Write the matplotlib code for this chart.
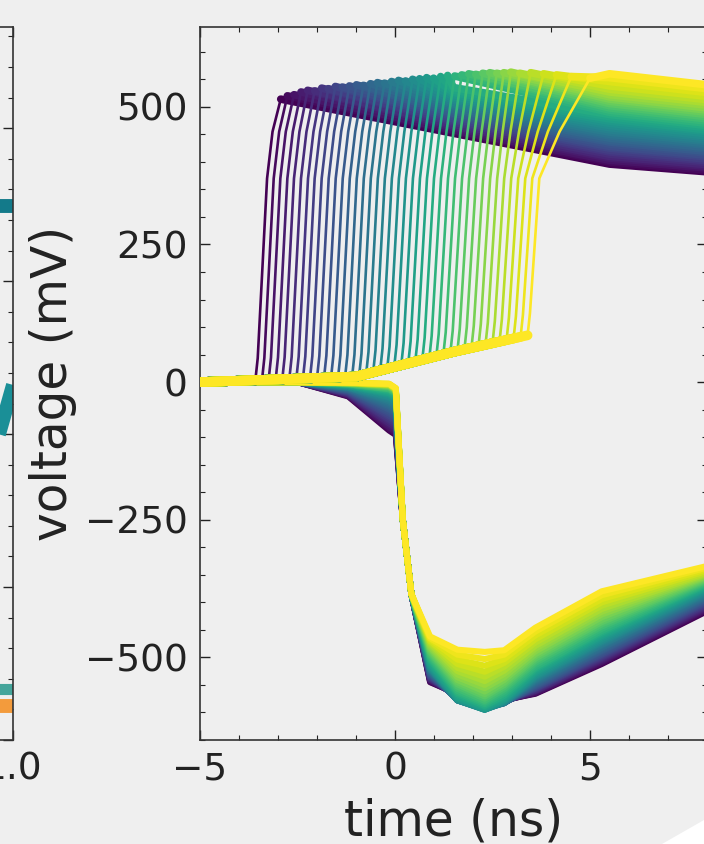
import numpy as np
import matplotlib
matplotlib.use("Agg")
import matplotlib.pyplot as plt
from matplotlib.ticker import MultipleLocator, FixedLocator
from matplotlib.patches import Polygon

# ---------------- data ----------------
# onset time (ns) of the rising edge of each upper trace (purple -> yellow)
onsets = [-3.58, -3.41, -3.24, -3.06, -2.89, -2.71, -2.53, -2.36, -2.18, -2.00,
          -1.82, -1.64, -1.46, -1.28, -1.10, -0.92, -0.74, -0.56, -0.38, -0.20,
          -0.02, 0.16, 0.34, 0.52, 0.70, 0.88, 1.06, 1.24, 1.42, 1.60,
          1.78, 1.96, 2.14, 2.32, 2.50, 2.68, 2.86, 3.04, 3.22, 3.40]

# shared pre-onset baseline of the upper channel
base_t = [-5.0, -1.0, 0.0, 1.5, 3.4]
base_v = [0.0, 10.0, 28.0, 55.0, 85.0]

# upper channel levels (mV)
up_top = [514, 520, 522, 527, 530, 529, 534, 533, 537, 536,
          538, 540, 539, 542, 544, 543, 546, 548, 547, 550,
          551, 553, 552, 555, 557, 556, 558, 560, 559, 561,
          562, 561, 562, 563, 561, 562, 560, 558, 555, 552]
up_mid = [452, 456, 458, 462, 465, 468, 472, 475, 478, 482,
          485, 488, 492, 495, 498, 502, 505, 508, 512, 515,
          518, 522, 526, 530, 535, 538, 540, 544, 548, 550,
          553, 552, 554, 555, 553, 555, 554, 552, 550, 548]
up_55 = [396, 400, 403, 407, 410, 414, 418, 421, 425, 428,
         432, 436, 439, 443, 447, 450, 454, 458, 462, 466,
         470, 474, 478, 482, 486, 490, 494, 498, 502, 506,
         510, 514, 518, 522, 527, 532, 538, 546, 553, 560]
up_end = [382, 385, 389, 392, 395, 399, 402, 405, 409, 412,
          416, 419, 423, 426, 430, 433, 437, 440, 444, 447,
          451, 455, 458, 462, 466, 470, 474, 478, 482, 486,
          490, 494, 498, 503, 508, 513, 519, 526, 533, 540]
roll = [0.65, 0.65, 0.65, 0.65, 0.65, 0.65, 0.65, 0.65, 0.65, 0.65,
        0.65, 0.65, 0.65, 0.65, 0.65, 0.65, 0.65, 0.65, 0.65, 0.65,
        0.65, 0.65, 0.65, 0.65, 0.65, 0.65, 0.65, 0.65, 0.65, 0.65,
        0.65, 0.65, 0.65, 0.65, 0.70, 0.80, 0.95, 1.10, 1.30, 1.60]

# lower channel (mV) at fixed times
low_t = [-5.0, -2.5, -1.2, -0.15, 0.02, 0.20, 0.42, 0.9, 1.6, 2.3, 2.8, 3.6, 5.3, 8.0]
low_12 = [-26, -25, -24, -23, -22, -21, -20, -19, -18, -17,
          -16, -15, -14, -13, -12, -11, -10, -10, -9, -8,
          -7, -7, -6, -5, -5, -4, -4, -4, -3, -3,
          -2, -2, -2, -2, -2, -1, -1, -1, -1, -1]
low_dip = [-88, -85, -82, -78, -75, -71, -68, -64, -61, -57,
           -54, -50, -47, -44, -41, -38, -35, -32, -29, -27,
           -24, -22, -20, -18, -16, -14, -13, -12, -10, -9,
           -8, -7, -6, -6, -5, -5, -4, -4, -3, -3]
low_09 = [-545, -544, -542, -541, -540, -538, -537, -536, -534, -533,
          -531, -530, -528, -527, -525, -524, -522, -521, -520, -518,
          -516, -514, -511, -508, -505, -502, -499, -496, -493, -490,
          -487, -484, -481, -478, -475, -472, -470, -467, -465, -462]
low_16 = [-566, -567, -568, -569, -570, -571, -572, -573, -574, -575,
          -576, -576, -577, -577, -578, -578, -578, -578, -578, -578,
          -577, -575, -573, -570, -567, -564, -561, -557, -553, -549,
          -545, -541, -536, -531, -525, -519, -512, -504, -495, -486]
low_min = [-578, -579, -580, -581, -582, -583, -584, -585, -586, -587,
           -588, -589, -590, -591, -592, -593, -594, -594, -595, -595,
           -595, -594, -592, -590, -588, -585, -582, -579, -575, -571,
           -567, -562, -556, -550, -543, -535, -526, -515, -503, -490]
low_28 = [-577, -578, -578, -579, -579, -580, -580, -581, -581, -582,
          -582, -582, -583, -583, -583, -583, -583, -582, -582, -581,
          -580, -578, -576, -573, -570, -566, -562, -558, -554, -550,
          -546, -541, -536, -530, -524, -517, -510, -503, -495, -487]
low_36 = [-566, -565, -564, -562, -561, -560, -558, -557, -556, -554,
          -553, -551, -549, -547, -545, -543, -541, -539, -537, -535,
          -533, -530, -527, -524, -521, -518, -514, -510, -506, -502,
          -498, -494, -489, -484, -479, -473, -467, -460, -453, -446]
low_53 = [-512, -510, -508, -506, -504, -502, -500, -498, -496, -494,
          -492, -489, -487, -484, -482, -479, -477, -474, -472, -470,
          -467, -464, -461, -458, -455, -452, -448, -444, -440, -436,
          -432, -427, -422, -417, -412, -406, -400, -394, -387, -380]
low_end = [-416, -414, -412, -410, -408, -406, -404, -402, -400, -398,
           -396, -394, -392, -390, -388, -386, -384, -382, -380, -378,
           -376, -374, -372, -370, -368, -366, -364, -362, -360, -358,
           -356, -354, -352, -350, -348, -346, -343, -340, -337, -334]

xticks = [-5, 0, 5]
yticks = [-500, -250, 0, 250, 500]

# neighbouring (cropped) panel on the left
left_xticks = [1.0]
left_seg_x = [0.9, 1.0]
left_h = [0.749]          # dark teal horizontal trace
left_diag_x = [0.90, 1.0]
left_diag_y = [0.247, 0.498]
left_bot_green = [0.072]
left_bot_orange = [0.047]

# ---------------- figure ----------------
BG = '#efefef'
W, H = 704, 844
fig = plt.figure(figsize=(W / 100, H / 100), dpi=100)
fig.patch.set_facecolor(BG)

ax = fig.add_axes([200 / W, 104 / H, 507 / W, 713 / H])
ax.set_facecolor(BG)

cmap = plt.get_cmap('viridis')
n = len(onsets)

for k in range(n):
    c = cmap(k / (n - 1))
    lv = [0, 0, low_12[k], low_dip[k], low_dip[k] - 8, -250, -385,
          low_09[k], low_16[k], low_min[k], low_28[k], low_36[k],
          low_53[k], low_end[k]]
    ax.plot(low_t, lv, color=c, lw=4.4, solid_joinstyle='round',
            solid_capstyle='round', zorder=2)

for k in range(n):
    c = cmap(k / (n - 1))
    t0 = onsets[k]
    b0 = float(np.interp(t0, base_t, base_v))
    pre_t = [t for t in base_t if t < t0] + [t0]
    pre_v = [v for t, v in zip(base_t, base_v) if t < t0] + [b0]
    ax.plot(pre_t, pre_v, color=c, lw=7.0, solid_capstyle='round', zorder=3)
    R = roll[k]
    rise_t = [t0, t0 + 0.06, t0 + 0.30, t0 + 0.30 + 0.4 * (R - 0.30), t0 + R]
    rise_v = [b0, b0 + 40, 370, 455, up_top[k]]
    ax.plot(rise_t, rise_v, color=c, lw=1.9, solid_capstyle='round',
            solid_joinstyle='round', zorder=3)
    pt = [t0 + R]
    pv = [up_top[k]]
    if t0 + R < 1.5:
        pt.append(1.5)
        pv.append(up_mid[k])
    pt += [5.5, 8.0]
    pv += [up_55[k], up_end[k]]
    ax.plot(pt, pv, color=c, lw=5.5, solid_capstyle='round',
            solid_joinstyle='round', zorder=3)

ax.set_xlim(-5, 8)
ax.set_ylim(-650, 645)
ax.xaxis.set_major_locator(FixedLocator(xticks))
ax.xaxis.set_minor_locator(MultipleLocator(1))
ax.yaxis.set_major_locator(FixedLocator(yticks))
ax.yaxis.set_minor_locator(MultipleLocator(50))
ax.tick_params(which='both', direction='in', top=True, right=True,
               colors='#222222', labelcolor='#222222')
ax.tick_params(which='major', length=7, width=1.0, labelsize=27)
ax.tick_params(which='minor', length=3.5, width=0.8)
ax.tick_params(axis='x', which='major', pad=8)
ax.tick_params(axis='y', which='major', pad=9)
for s in ax.spines.values():
    s.set_color('#333333')
    s.set_linewidth(1.2)

ax.set_xlabel('time (ns)', fontsize=35, color='#222222')
ax.set_ylabel('voltage (mV)', fontsize=35, color='#222222')
ax.xaxis.set_label_coords(0.5, -0.081)
ax.yaxis.set_label_coords(-0.242, 0.5)

# ---------------- left cropped panel ----------------
lax = fig.add_axes([(13 - 507) / W, 104 / H, 507 / W, 713 / H])
lax.set_facecolor(BG)
lax.set_xlim(0, 1.0)
lax.set_ylim(0, 1)
lax.plot(left_seg_x, left_h * 2, color='#137a8a', lw=10, solid_capstyle='butt')
lax.plot(left_diag_x, left_diag_y, color='#1a8f97', lw=10, solid_capstyle='butt')
lax.plot(left_seg_x, left_bot_green * 2, color='#45a59b', lw=8,
         solid_capstyle='butt')
lax.plot(left_seg_x, left_bot_orange * 2, color='#f39b3c', lw=10,
         solid_capstyle='butt')
lax.xaxis.set_major_locator(FixedLocator(left_xticks))
lax.set_xticklabels(['1.0'])
lax.yaxis.set_minor_locator(MultipleLocator(0.0429))
lax.yaxis.set_major_locator(MultipleLocator(0.2145))
lax.tick_params(which='both', direction='in', top=True, right=True,
                colors='#222222', labelcolor='#222222')
lax.tick_params(which='major', length=7, width=1.0, labelsize=27)
lax.tick_params(which='minor', length=3.5, width=0.8)
lax.tick_params(axis='x', which='major', pad=8)
for s in lax.spines.values():
    s.set_color('#333333')
    s.set_linewidth(1.2)

# page-curl corner at bottom right
fig.patches.append(Polygon([(662 / W, 0), (1.0, 24 / H), (1.0, 0)],
                           closed=True, transform=fig.transFigure,
                           facecolor='white', edgecolor='none', zorder=10))

fig.savefig('out.png', dpi=100, facecolor=BG)
